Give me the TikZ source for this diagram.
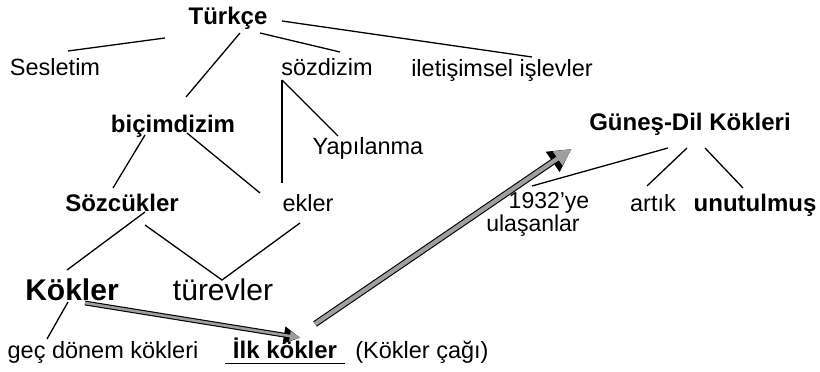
\documentclass[tikz,border=0pt]{standalone}
\usepackage{fontspec}
\setmainfont{Liberation Sans}
\usetikzlibrary{arrows.meta}

\begin{document}
\begin{tikzpicture}[x=1pt,y=-1pt,line width=1.3pt,
    term/.style={anchor=base, inner sep=0pt, font=\fontsize{23.5}{26}\selectfont},
    keyterm/.style={anchor=base, inner sep=0pt, font=\fontsize{24}{27}\selectfont\bfseries},
    bigterm/.style={anchor=base, inner sep=0pt, font=\fontsize{30}{33}\selectfont},
    bigarrow/.style={draw=gray!75, line width=#1,
        preaction={draw=black, line width=#1+2.2pt, -{Triangle[length=#1*4+6pt,width=#1*4+6pt]}},
        -{Triangle[length=#1*4,width=#1*4-1pt]}, shorten >=1.8pt}]
        \useasboundingbox (0,0) rectangle (820,372);
        % Nodes
        \node [keyterm] (turkce) at (228,24) {Türkçe};
        \node [term] (sesletim) at (55,75) {Sesletim};
        \node [term] (sozdizim) at (327,75) {sözdizim};
        \node [term] (iletisim) at (502,76) {iletişimsel işlevler};
        \node [keyterm] (bicim) at (173,132) {biçimdizim};
        \node [term] (yapilanma) at (368,154) {Yapılanma};
        \node [keyterm] (sozcuk) at (122,211) {Sözcükler};
        \node [term] (ekler) at (308,211) {ekler};
        \node [bigterm,font=\fontsize{30}{33}\selectfont\bfseries] (kokler) at (72,300) {Kökler};
        \node [bigterm] (turev) at (223,300) {türevler};
        \node [term] (gec) at (103,358) {geç dönem kökleri};
        \node [keyterm] (ilk) at (285,358) {İlk kökler};
        \node [term] (cagi) at (422,358) {(Kökler çağı)};
        
        \node [keyterm] (gunes) at (690,130) {Güneş-Dil Kökleri};
        \node [term,font=\fontsize{23}{25}\selectfont] (ulasan1) at (549,208) {1932’ye};
        \node [term,font=\fontsize{23}{25}\selectfont] (ulasan2) at (533,231) {ulaşanlar};
        \node [term] (artik) at (653,211) {artık};
        \node [keyterm] (unutulmus) at (755,211) {unutulmuş};
        
        % Lines
        \draw ([shift={(-63,14)}]turkce.base) -- ([shift={(13,-24)}]sesletim.base);
        \draw ([shift={(12,9)}]turkce.base) -- ([shift={(13,-35)}]bicim.base);
        \draw ([shift={(32,9)}]turkce.base) -- ([shift={(13,-23)}]sozdizim.base);
        \draw ([shift={(54,-3)}]turkce.base) -- ([shift={(30,-19)}]iletisim.base);
        \draw ([shift={(-45,5)}]sozdizim.base) -- ([shift={(-30,-18)}]yapilanma.base);
        \draw ([shift={(-45,5)}]sozdizim.base) -- ([shift={(-26,-28)}]ekler.base);
        \draw ([shift={(-28,3)}]bicim.base) -- ([shift={(-9,-23)}]sozcuk.base);
        \draw ([shift={(14,1)}]bicim.base) -- ([shift={(-48,-18)}]ekler.base);
        \draw ([shift={(23,1)}]sozcuk.base) -- ([shift={(-5,-30)}]kokler.base);
        \draw ([shift={(23,14)}]sozcuk.base) -- ([shift={(-1,-20)}]turev.base)
            -- ([shift={(-8,12)}]ekler.base);
        \draw ([shift={(-4,2)}]kokler.base) -- ([shift={(-56,-19)}]gec.base);
        \draw[line width=0.8pt] ([shift={(-60,5)}]ilk.base) -- ([shift={(60,5)}]ilk.base);
        
        \draw ([shift={(-22,18)}]gunes.base) -- ([shift={(-17,-22)}]ulasan1.base);
        \draw ([shift={(-3,18)}]gunes.base) -- ([shift={(-6,-25)}]artik.base);
        \draw ([shift={(15,18)}]gunes.base) -- ([shift={(-12,-23)}]unutulmus.base);
        
        % Arrows
        \draw[bigarrow=2.6pt] ([shift={(13,3)}]kokler.base) -- ([shift={(17,-20)}]ilk.base);
        \draw[bigarrow=4.2pt] ([shift={(30,-34)}]ilk.base) -- ([shift={(-117,18)}]gunes.base);
\end{tikzpicture}
\end{document}
